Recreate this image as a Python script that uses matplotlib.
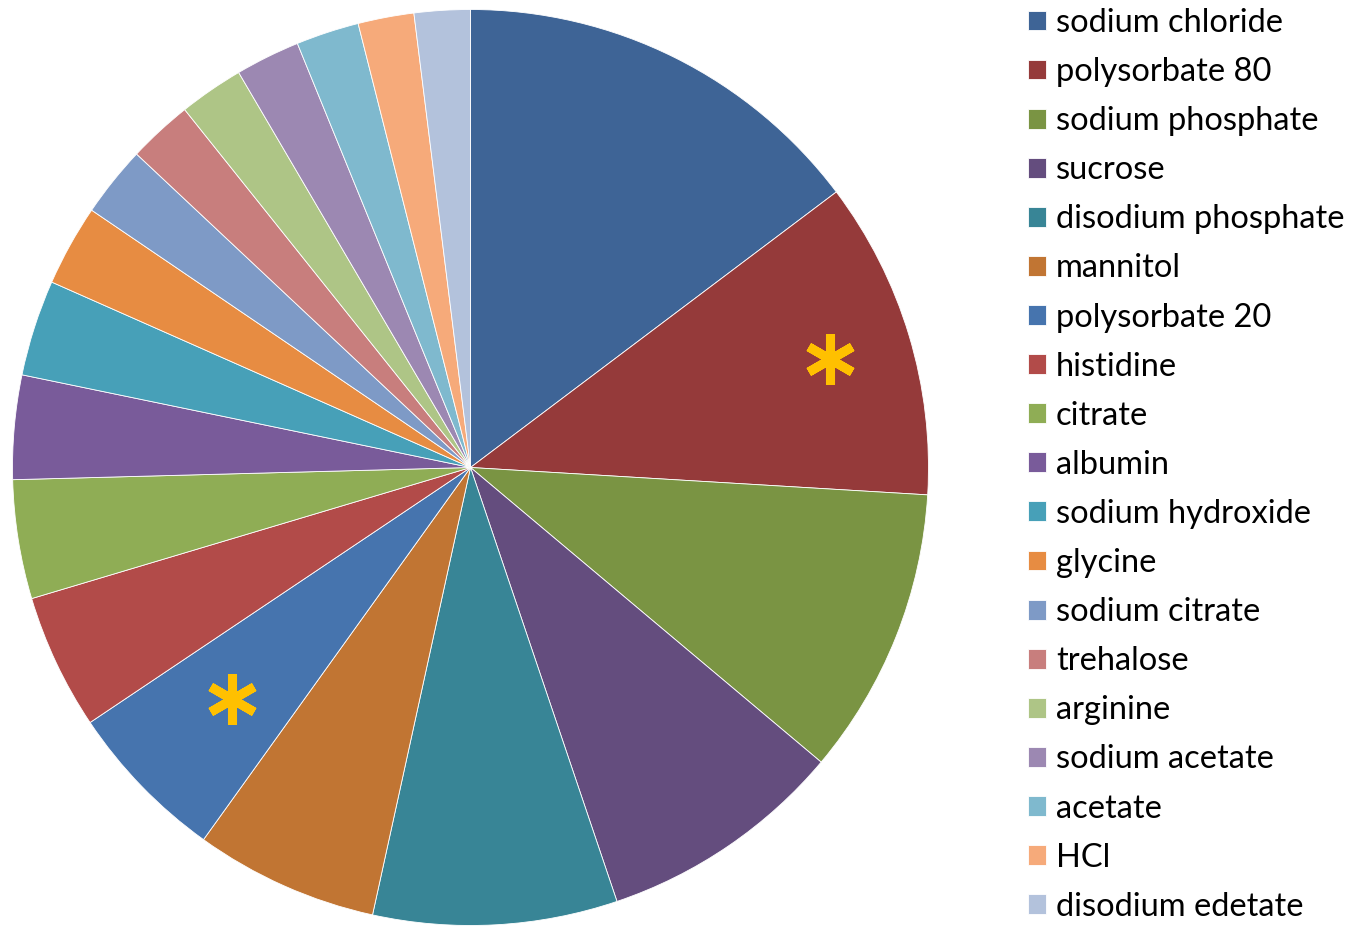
import matplotlib
matplotlib.use('Agg')
import numpy as np
import matplotlib.pyplot as plt
from matplotlib.markers import MarkerStyle

# excipient shares (in degrees of the pie)
labels = ['sodium chloride', 'polysorbate 80', 'sodium phosphate', 'sucrose',
          'disodium phosphate', 'mannitol', 'polysorbate 20', 'histidine',
          'citrate', 'albumin', 'sodium hydroxide', 'glycine', 'sodium citrate',
          'trehalose', 'arginine', 'sodium acetate', 'acetate', 'HCl',
          'disodium edetate']
values = [53.0, 40.4, 36.6, 31.3, 31.0, 23.3, 20.5, 17.2, 15.1, 13.2,
          12.2, 10.3, 9.0, 8.2, 8.2, 8.2, 8.0, 7.1, 7.1]
colors = ['#3E6496', '#953A3A', '#7A9443', '#644D7E', '#388596', '#C17533',
          '#4674AE', '#B24B49', '#8FAD55', '#795B9A', '#47A0B8', '#E78C42',
          '#7E9AC6', '#C87E7D', '#AEC586', '#9C88B2', '#7FB9CE', '#F6AA7A',
          '#B3C2DC']
# slices marked with an asterisk, and radius of the mark
starred = {'polysorbate 80': 0.82, 'polysorbate 20': 0.725}

plt.rcParams['font.family'] = ['Lato', 'DejaVu Sans']

W, H = 1350, 927
fig = plt.figure(figsize=(13.5, 9.27), dpi=100)
cx, cy, r = 470.5, 467.5, 458
ax = fig.add_axes([(cx - r) / W, (H - cy - r) / H, 2 * r / W, 2 * r / H])
wedges, _ = ax.pie(values, colors=colors, startangle=90, counterclock=False,
                   radius=1, wedgeprops=dict(linewidth=0.6, edgecolor='white'))
ax.set_xlim(-1, 1)
ax.set_ylim(-1, 1)
ax.set_aspect('equal')
ax.axis('off')

star = MarkerStyle((6, 2, 0), capstyle='round')
for w, lab in zip(wedges, labels):
    if lab in starred:
        mid = np.deg2rad((w.theta1 + w.theta2) / 2)
        rr = starred[lab]
        ax.plot(rr * np.cos(mid), rr * np.sin(mid), marker=star, markersize=36,
                markeredgewidth=6.5, color='#FFC000', linestyle='none')

fig.legend(wedges, labels, loc='upper left', bbox_to_anchor=(1028 / W, 1 - 8 / H),
           frameon=False, fontsize=23.5, labelspacing=0.585, handlelength=0.56,
           handleheight=0.56, handletextpad=0.3, borderpad=0, borderaxespad=0)

fig.savefig('out.png', dpi=100)
